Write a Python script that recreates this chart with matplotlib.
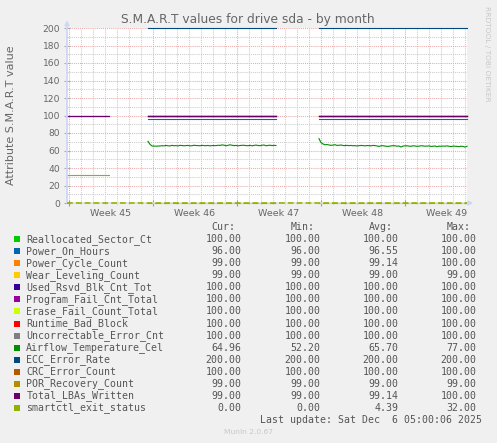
import matplotlib
matplotlib.use("Agg")
import matplotlib.pyplot as plt
import matplotlib.dates as mdates
import matplotlib.ticker as tck
from matplotlib.patches import Rectangle
import numpy as np
import pandas as pd

fields = ["Reallocated_Sector_Ct", "Power_On_Hours", "Power_Cycle_Count",
          "Wear_Leveling_Count", "Used_Rsvd_Blk_Cnt_Tot", "Program_Fail_Cnt_Total",
          "Erase_Fail_Count_Total", "Runtime_Bad_Block", "Uncorrectable_Error_Cnt",
          "Airflow_Temperature_Cel", "ECC_Error_Rate", "CRC_Error_Count",
          "POR_Recovery_Count", "Total_LBAs_Written", "smartctl_exit_status"]
colors = ["#00CC00", "#0066B3", "#FF8000", "#FFCC00", "#330099", "#990099",
          "#CCFF00", "#FF0000", "#808080", "#008F00", "#00487D", "#B35A00",
          "#B38F00", "#6B006B", "#8FB300"]

cur = [100.00, 96.00, 99.00, 99.00, 100.00, 100.00, 100.00, 100.00, 100.00,
       64.96, 200.00, 100.00, 99.00, 99.00, 0.00]
vmin = [100.00, 96.00, 99.00, 99.00, 100.00, 100.00, 100.00, 100.00, 100.00,
        52.20, 200.00, 100.00, 99.00, 99.00, 0.00]
vavg = [100.00, 96.55, 99.14, 99.00, 100.00, 100.00, 100.00, 100.00, 100.00,
        65.70, 200.00, 100.00, 99.00, 99.14, 4.39]
vmax = [100.00, 100.00, 100.00, 99.00, 100.00, 100.00, 100.00, 100.00, 100.00,
        77.00, 200.00, 100.00, 99.00, 100.00, 32.00]

nan = np.nan
# level of each field in the three stretches that have data (nan = no data)
seg1_vals = [100, 100, 100, nan, nan, nan, nan, nan, nan, nan, nan, nan, nan, 100, 32]
seg2_vals = [100, 96, 99, 99, 100, 100, 100, 100, 100, "air", 200, 100, 99, 99, 0]
seg3_vals = [100, 96, 99, 99, 100, 100, 100, 100, 100, "air", 200, 100, 99, 99, 0]

airflow_seg2 = [70.5, 67.0, 65.2, 65.0, 65.0, 65.1, 65.2, 65.5, 65.3, 65.8, 65.4,
                65.2, 65.9, 65.5, 65.6, 65.2, 65.9, 65.7, 65.4, 65.6, 65.8, 65.3,
                65.5, 66.0, 65.7, 65.6, 65.4, 65.9, 65.6, 65.5, 65.8, 65.3, 65.6,
                65.7, 65.5, 66.0, 65.8, 66.4, 66.1, 65.4, 65.9, 66.5, 66.0, 65.6,
                65.8, 65.3, 65.7, 65.9, 66.0, 65.6, 65.5, 65.9, 65.3, 65.8, 66.2,
                65.7, 65.5, 66.0, 66.3, 65.4, 65.8, 66.1, 65.6, 65.9, 65.7]
airflow_seg3 = [73.5, 69.0, 67.5, 66.5, 66.8, 66.3, 65.9, 66.2, 66.6, 65.8, 66.0,
                66.3, 65.7, 65.6, 65.9, 65.5, 65.8, 65.4, 65.6, 65.2, 65.5, 65.8,
                65.6, 65.3, 65.7, 65.5, 65.4, 65.8, 65.6, 65.2, 64.6, 65.4, 65.5,
                65.1, 64.7, 64.8, 65.3, 65.5, 65.4, 64.9, 65.2, 64.0, 65.1, 65.3,
                65.4, 65.0, 64.8, 65.4, 65.2, 64.7, 65.0, 65.4, 65.3, 64.9, 65.1,
                65.3, 64.6, 64.9, 65.2, 64.3, 65.0, 64.8, 65.1, 64.9, 65.3, 64.8,
                64.5, 65.0, 64.9, 64.7, 64.4, 64.9, 64.7, 63.9, 64.8]

t_end = pd.Timestamp("2025-12-06 05:00")
t_start = t_end - pd.Timedelta(hours=800)
seg_starts = [pd.Timestamp("2025-11-02 21:00"), pd.Timestamp("2025-11-09 15:00"),
              pd.Timestamp("2025-11-23 21:00")]
seg_lens = [22, len(airflow_seg2), len(airflow_seg3)]
airflow = [None, airflow_seg2, airflow_seg3]
step = pd.Timedelta(hours=4)

W, H = 497, 443
fig = plt.figure(figsize=(W / 100, H / 100), dpi=100, facecolor="#F0F0F0")
ax = fig.add_axes([67 / W, 1 - 203 / H, 400 / W, 175 / H])
ax.set_facecolor("white")


def fx(x):
    return x / W


def fy(y):
    return 1 - y / H


# data lines
for i, name in enumerate(fields):
    for s, vals in enumerate([seg1_vals, seg2_vals, seg3_vals]):
        v = vals[i]
        t = pd.date_range(seg_starts[s], periods=seg_lens[s], freq=step)
        if isinstance(v, str):
            y = np.array(airflow[s])
        elif np.isnan(v):
            continue
        else:
            y = np.full(seg_lens[s], float(v))
        ax.plot(t.to_pydatetime(), y, color=colors[i], lw=0.8, clip_on=False, zorder=3)

ax.set_xlim(t_start.to_pydatetime(), t_end.to_pydatetime())
ax.set_ylim(0, 200)

ax.xaxis.set_major_locator(mdates.WeekdayLocator(byweekday=mdates.MO))
ax.xaxis.set_minor_locator(mdates.DayLocator())
ax.yaxis.set_major_locator(tck.MultipleLocator(20))
ax.yaxis.set_minor_locator(tck.MultipleLocator(10))
ax.grid(which="minor", color="#CCCCCC", ls=(0, (1, 1)), lw=0.75)
ax.grid(which="major", color="#EBAAAA", ls=(0, (1, 1)), lw=0.75)
ax.set_axisbelow(True)

ax.tick_params(axis="x", which="both", labelbottom=False, direction="inout")
ax.tick_params(axis="x", which="major", color="#E08080", length=4)
ax.tick_params(axis="x", which="minor", color="#BBBBBB", length=2)
ax.tick_params(axis="y", which="major", color="#AAAAAA", length=4, direction="inout",
               labelsize=6.6, labelcolor="#666666", pad=3)
ax.tick_params(axis="y", which="minor", color="#BBBBBB", length=2, direction="inout")
for sp in ax.spines.values():
    sp.set_visible(False)

# x axis rule and arrows
ax.axhline(0, color="#8FB300", lw=1.2, ls=(0, (3.5, 1.8)), gapcolor="#E2E2E2",
           clip_on=False, zorder=4)
ax.annotate("", xy=(0, 1.045), xytext=(0, 0), xycoords="axes fraction",
            arrowprops=dict(arrowstyle="-|>", color="#CFD6F8", lw=1.3, mutation_scale=6,
                            shrinkA=0, shrinkB=0))
ax.annotate("", xy=(1.016, 0), xytext=(0.999, 0), xycoords="axes fraction",
            arrowprops=dict(arrowstyle="-|>", color="#CFD6F8", lw=1.3, mutation_scale=6,
                            shrinkA=0, shrinkB=0))

# week labels centred on each week
week_mid = pd.date_range("2025-11-06 12:00", periods=5, freq="7D")
week_lab = ["Week %d" % d.isocalendar()[1] for d in week_mid]
sec = ax.secondary_xaxis("bottom")
sec.set_xticks(mdates.date2num(week_mid.to_pydatetime()), week_lab)
sec.tick_params(length=0, labelsize=6.8, labelcolor="#666666", pad=4)
sec.spines["bottom"].set_visible(False)

fig.text(fx(248), fy(19), "S.M.A.R.T values for drive sda - by month", ha="center",
         va="center", fontsize=8.8, color="#666666")
fig.text(fx(11), fy(115), "Attribute S.M.A.R.T value", rotation=90, ha="center",
         va="center", fontsize=8, color="#666666")
fig.text(fx(487), fy(54), "RRDTOOL / TOBI OETIKER", rotation=-90, ha="center",
         va="center", fontsize=5.4, color="#C8C8C8")

# legend table
mono = dict(family="DejaVu Sans Mono", fontsize=7.15, color="#555555", va="center")
col_r = [241.7, 320.7, 398.7, 476.7]
head_r = [235.5, 314.5, 392.5, 470.5]
for hx, h in zip(head_r, ["Cur:", "Min:", "Avg:", "Max:"]):
    fig.text(fx(hx), fy(227), h, ha="right", **mono)
for i, name in enumerate(fields):
    y = 239.3 + 12.03 * i
    fig.patches.append(Rectangle((fx(14), fy(y + 3)), 6 / W, 6 / H, transform=fig.transFigure,
                                 facecolor=colors[i], edgecolor="none"))
    fig.text(fx(26.3), fy(y), name, ha="left", **mono)
    for cx, v in zip(col_r, [cur[i], vmin[i], vavg[i], vmax[i]]):
        fig.text(fx(cx), fy(y), "%.2f" % v, ha="right", **mono)
fig.text(fx(482), fy(419.7), "Last update: Sat Dec  6 05:00:06 2025", ha="right", **mono)
fig.text(fx(248), fy(432), "Munin 2.0.67", ha="center", va="center", fontsize=5.4,
         color="#C8C8C8")

plt.savefig("out.png", dpi=100, facecolor=fig.get_facecolor())
